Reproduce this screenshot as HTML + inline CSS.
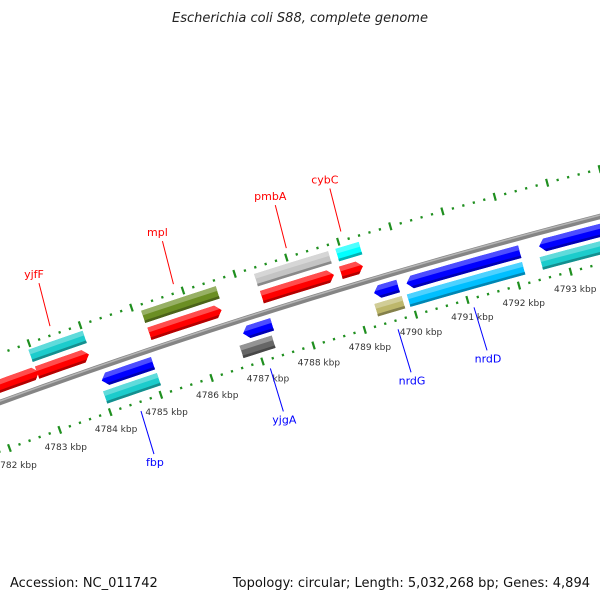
<!DOCTYPE html>
<html><head><meta charset="utf-8"><style>
html,body{margin:0;padding:0;background:#fff;}
svg{display:block;font-family:"DejaVu Sans","Liberation Sans",sans-serif;}
</style></head><body>
<svg id="map" width="600" height="600" viewBox="0 0 600 600" xmlns="http://www.w3.org/2000/svg">
<rect width="600" height="600" fill="#fff"/>
<text x="300" y="22" text-anchor="middle" font-size="13" font-style="italic" fill="#222">Escherichia coli S88, complete genome</text>
<defs id="defs"></defs>
<g id="layer"></g>
<text x="10" y="587" font-size="13" fill="#111">Accession: NC_011742</text>
<text x="590" y="587" text-anchor="end" font-size="13" fill="#111">Topology: circular; Length: 5,032,268 bp; Genes: 4,894</text>
</svg>
<script>
// data
const featStart = [4781.0, 4782.96, 4785.16, 4787.35, 4788.88, 4782.95, 4785.15, 4787.34, 4788.91, 4784.04, 4786.81, 4789.36, 4789.99, 4792.55, 4784.0, 4786.68, 4789.31, 4789.94, 4792.51];
const featEnd   = [4783.0, 4783.98, 4786.57, 4788.75, 4789.31, 4784.01, 4786.60, 4788.77, 4789.36, 4785.05, 4787.38, 4789.83, 4792.18, 4795.0, 4785.06, 4787.31, 4789.84, 4792.17, 4795.0];
const featRow   = [1, 1, 1, 1, 1, 2, 2, 2, 2, -1, -1, -1, -1, -1, -2, -2, -2, -2, -2];
const featDir   = [1, 1, 1, 1, 1, 0, 0, 0, 0, -1, -1, -1, -1, -1, 0, 0, 0, 0, 0];
const featColor = ["#ff0000","#ff0000","#ff0000","#ff0000","#ff0000","#1ccccc","#6b8e23","#c4c4c4","#00ffff","#0000ff","#0000ff","#0000ff","#0000ff","#0000ff","#1ccccc","#666666","#bdb76b","#00bfff","#1ccccc"];
const labelNames = ["yjfF","mpl","pmbA","cybC","fbp","yjgA","nrdG","nrdD"];
const labelPos   = [4783.47, 4785.87, 4788.05, 4789.1, 4784.55, 4787.1, 4789.6, 4791.08];
const labelSide  = [1, 1, 1, 1, -1, -1, -1, -1];
const kbpTicks = [4781,4782,4783,4784,4785,4786,4787,4788,4789,4790,4791,4792,4793,4794,4795,4796];
const kbpLabels = ["4781 kbp","4782 kbp","4783 kbp","4784 kbp","4785 kbp","4786 kbp","4787 kbp","4788 kbp","4789 kbp","4790 kbp","4791 kbp","4792 kbp","4793 kbp","4794 kbp","4795 kbp","4796 kbp"];

const NS="http://www.w3.org/2000/svg";
const CX=2214, CY=6484, R0=6472, K0=4784, A0=-19.11, DA=0.477;
function P(k,r){const a=(A0+DA*(k-K0))*Math.PI/180;return [CX+r*Math.sin(a), CY-r*Math.cos(a)];}
const layer=document.getElementById('layer');
const defs=document.getElementById('defs');
function mk(tag,attrs,parent){const e=document.createElementNS(NS,tag);for(const a in attrs)e.setAttribute(a,attrs[a]);(parent||layer).appendChild(e);return e;}
function ptsStr(a){return a.map(p=>p[0].toFixed(2)+","+p[1].toFixed(2)).join(" ");}
function arc(k1,k2,r){const n=Math.max(2,Math.ceil((k2-k1)*4));const o=[];for(let i=0;i<=n;i++)o.push(P(k1+(k2-k1)*i/n,r));return o;}
function mix(hex,t,target){const v=parseInt(hex.slice(1),16);let r=v>>16,g=(v>>8)&255,b=v&255;const T=target;r=Math.round(r+(T-r)*t);g=Math.round(g+(T-g)*t);b=Math.round(b+(T-b)*t);return "rgb("+r+","+g+","+b+")";}

// tick rings
const ringR=[R0+46,R0-46];
ringR.forEach((rr,ri)=>{
  for(let k=4780;k<=4797.001;k+=0.2){
    const kk=Math.round(k*10)/10;
    if(Math.abs(kk-Math.round(kk))<0.01) continue;
    const a=P(kk,rr-1.2),b=P(kk,rr+1.2);
    const d=mk('line',{x1:a[0],y1:a[1],x2:b[0],y2:b[1],stroke:'#1f8f1f','stroke-width':2.2});
    
    
  }
  kbpTicks.forEach(k=>{
    const a=P(k,rr-4),b=P(k,rr+4);
    const t=mk('line',{x1:a[0],y1:a[1],x2:b[0],y2:b[1],stroke:'#1f8f1f','stroke-width':2.2});
    
    
  });
});
kbpTicks.forEach((k,i)=>{
  const p=P(k,R0-64);
  const t=mk('text',{x:p[0],y:p[1]+3,'text-anchor':'middle','font-size':'9',fill:'#333'});
  t.textContent=kbpLabels[i];
  
  
});

// backbone
const bb=arc(4779,4798,R0);
const b1=mk('polyline',{points:ptsStr(bb),fill:'none',stroke:'#858585','stroke-width':5.5});


const b2=mk('polyline',{points:ptsStr(arc(4779,4798,R0+1.3)),fill:'none',stroke:'#b5b5b5','stroke-width':1.5});



// features
const rowR={1:[R0+9,R0+22],2:[R0+27,R0+40],'-1':[R0-20,R0-7],'-2':[R0-37,R0-24]};
const HEAD=0.11;
featStart.forEach((s,i)=>{
  const e=featEnd[i],[ra,rb]=rowR[featRow[i]],dir=featDir[i],rm=(ra+rb)/2;
  let poly;
  if(dir===1){const h=Math.min(HEAD,(e-s)*0.5);poly=arc(s,e-h,rb).concat([P(e,rm)]).concat(arc(s,e-h,ra).reverse());}
  else if(dir===-1){const h=Math.min(HEAD,(e-s)*0.5);poly=[P(s,rm)].concat(arc(s+h,e,rb)).concat(arc(s+h,e,ra).reverse());}
  else poly=arc(s,e,rb).concat(arc(s,e,ra).reverse());
  const cp=mk('clipPath',{id:'cp'+i},defs);
  mk('polygon',{points:ptsStr(poly)},cp);
  const g=mk('g',{'clip-path':'url(#cp'+i+')'});
  
  
  const base=mk('polygon',{points:ptsStr(poly),fill:featColor[i]},g);
  
  
  const h=rb-ra;
  const top=arc(s-0.2,e+0.2,rb+1).concat(arc(s-0.2,e+0.2,rb-h*0.38).reverse());
  const tp=mk('polygon',{points:ptsStr(top),fill:mix(featColor[i],0.3,255)},g);
  
  
  const bot=arc(s-0.2,e+0.2,ra+h*0.2).concat(arc(s-0.2,e+0.2,ra-1).reverse());
  const bt=mk('polygon',{points:ptsStr(bot),fill:mix(featColor[i],0.3,0)},g);
  
  
});

// labels
labelNames.forEach((n,i)=>{
  const sd=labelSide[i],col=sd>0?'#ff0000':'#0000ff';
  const a=P(labelPos[i],R0+sd*55);
  const b=[a[0]+(sd>0?-11:13),a[1]+(sd>0?-43:43)];
  const l=mk('line',{x1:a[0],y1:a[1],x2:b[0],y2:b[1],stroke:col,'stroke-width':1});
  
  
  const t=mk('text',{x:b[0]+(sd>0?-5:1),y:sd>0?b[1]-5:b[1]+12,'text-anchor':'middle','font-size':'11',fill:col});
  t.textContent=n;
  
  
});
</script>
</body></html>
